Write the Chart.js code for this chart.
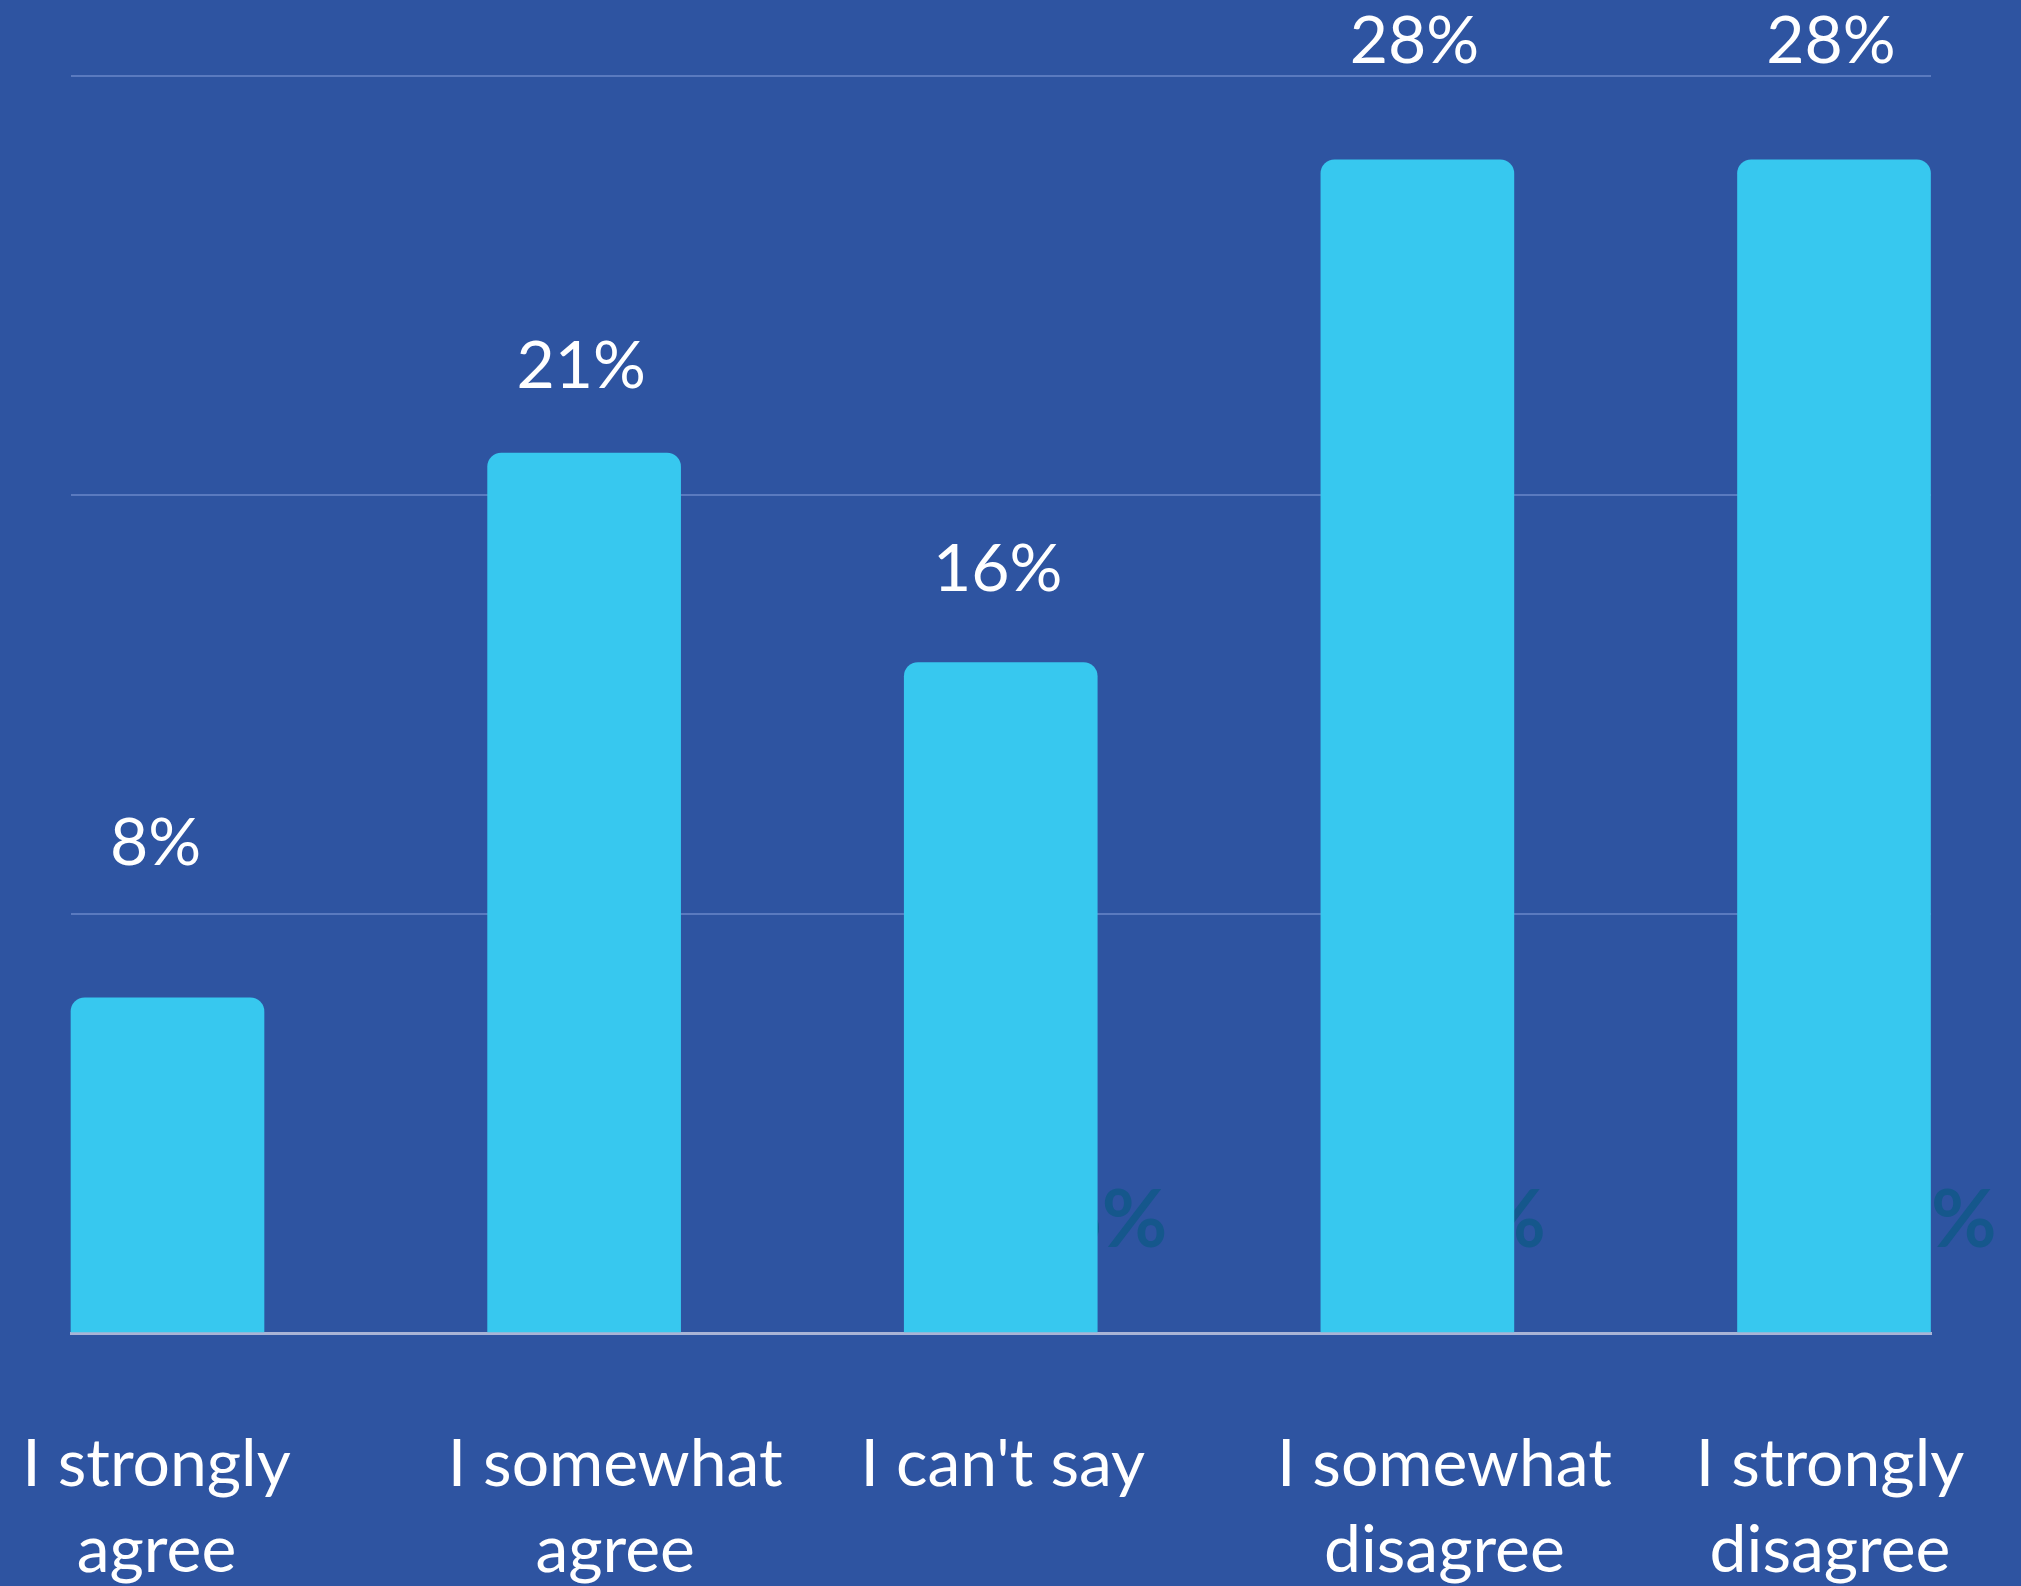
<!DOCTYPE html>
<html>
<head>
<meta charset="utf-8">
<script src="https://cdn.jsdelivr.net/npm/chart.js@4/dist/chart.umd.min.js"></script>
<style>
  html, body { margin: 0; padding: 0; background: #2E54A1; }
  #grafico { display: block; }
</style>
</head>
<body>
<canvas id="grafico" width="2021" height="1586"></canvas>
<script>
// ----- Dados -----
const categorias = [
  ['I strongly', 'agree'],
  ['I somewhat', 'agree'],
  ["I can't say"],
  ['I somewhat', 'disagree'],
  ['I strongly', 'disagree']
];
const valores = [8, 21, 16, 28, 28];
const rotulos = ['8%', '21%', '16%', '28%', '28%'];
const yTicks = [0, 10, 20, 30];

// deslocamento horizontal dos nomes das categorias (px)
const desvioCategoria = [-11, 31, 2, 27, -4];
// distancia do rotulo ao topo da barra (px)
const folgaRotulo = [133, 65, 72, 97, 97];
// textos escuros escondidos atras das barras
const textoOculto = [null, null, '16%', '28%', '28%'];
const folgaOculto = [0, 0, 70, 32, 66];

const FONTE = 'Lato, "Noto Sans", sans-serif';

const pluginRotulos = {
  id: 'rotulos',
  beforeDatasetsDraw(chart) {
    const ctx = chart.ctx;
    const meta = chart.getDatasetMeta(0);
    ctx.save();
    ctx.font = 'bold 80px ' + FONTE;
    ctx.fillStyle = '#15578C';
    ctx.textAlign = 'right';
    ctx.textBaseline = 'alphabetic';
    meta.data.forEach((bar, i) => {
      if (!textoOculto[i]) return;
      ctx.fillText(textoOculto[i], bar.x + bar.width / 2 + folgaOculto[i], chart.chartArea.bottom - 86);
    });
    ctx.restore();
  },
  afterDatasetsDraw(chart) {
    const ctx = chart.ctx;
    const meta = chart.getDatasetMeta(0);
    ctx.save();
    ctx.font = '66px ' + FONTE;
    ctx.fillStyle = '#ffffff';
    ctx.textAlign = 'center';
    ctx.textBaseline = 'alphabetic';
    meta.data.forEach((bar, i) => {
      ctx.fillText(rotulos[i], bar.x - (i === 0 ? 12 : 3), bar.y - folgaRotulo[i]);
    });
    ctx.restore();
  }
};

const ctxGrafico = document.getElementById('grafico').getContext('2d');

// px por unidade no eixo x (1860 px / 4.4644 unidades)
const PX_UNIDADE = 416.6;

new Chart(ctxGrafico, {
  type: 'bar',
  data: {
    datasets: [{
      data: valores.map((v, i) => ({ x: i, y: v })),
      backgroundColor: '#37C8EF',
      borderWidth: 0,
      borderRadius: { topLeft: 14, topRight: 14, bottomLeft: 0, bottomRight: 0 },
      borderSkipped: false,
      barThickness: 193,
      clip: false
    }]
  },
  options: {
    responsive: false,
    animation: false,
    layout: {
      padding: { left: 71, right: 90, top: 76, bottom: 0 }
    },
    plugins: {
      legend: { display: false },
      tooltip: { enabled: false }
    },
    scales: {
      x: {
        type: 'linear',
        offset: false,
        min: -0.2316,
        max: 4.2328,
        afterBuildTicks: scale => {
          scale.ticks = categorias.map((c, i) => ({ value: i + desvioCategoria[i] / PX_UNIDADE }));
        },
        afterFit: scale => {
          scale.height = 253;
          scale.paddingLeft = 0;
          scale.paddingRight = 0;
        },
        grid: { display: false, drawTicks: false, offset: false },
        border: { display: true, color: '#A9B4D6', width: 3 },
        ticks: {
          autoSkip: false,
          maxRotation: 0,
          minRotation: 0,
          padding: 89,
          color: '#ffffff',
          font: { family: FONTE, size: 66, lineHeight: 1.3 },
          callback: (value, index) => categorias[index] || ''
        }
      },
      y: {
        min: 0,
        max: 30,
        afterBuildTicks: scale => {
          scale.ticks = yTicks.map(v => ({ value: v }));
        },
        afterFit: scale => {
          scale.width = 0;
        },
        grid: { color: '#5A7ABF', lineWidth: 2, drawTicks: false },
        border: { display: false },
        ticks: { display: false }
      }
    }
  },
  plugins: [pluginRotulos]
});
</script>
</body>
</html>
